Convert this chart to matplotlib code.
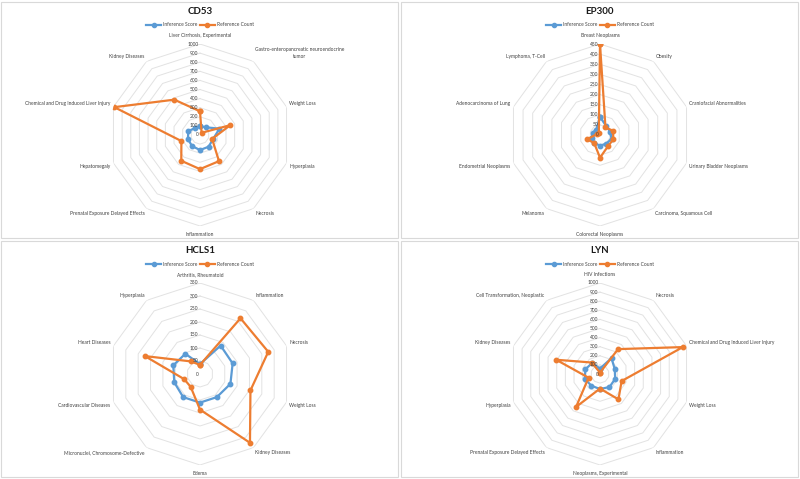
import numpy as np
import matplotlib
matplotlib.use("Agg")
import matplotlib.pyplot as plt
from matplotlib.patches import Rectangle
from matplotlib.lines import Line2D

plt.rcParams["font.family"] = ["Lato", "DejaVu Sans"]

W, H = 800, 479

# CD53
cd53_cats = ["Liver Cirrhosis, Experimental",
             "Gastro-enteropancreatic neuroendocrine\ntumor",
             "Weight Loss", "Hyperplasia", "Necrosis", "Inflammation",
             "Prenatal Exposure Delayed Effects", "Hepatomegaly",
             "Chemical and Drug Induced Liver Injury", "Kidney Diseases"]
cd53_inference = [95, 105, 225, 150, 160, 165, 150, 140, 135, 95]
cd53_reference = [260, 30, 350, 140, 355, 375, 350, 215, 990, 480]

# EP300
ep300_cats = ["Breast Neoplasms", "Obesity", "Craniofacial Abnormalities",
              "Urinary Bladder Neoplasms", "Carcinoma, Squamous Cell",
              "Colorectal Neoplasms", "Melanoma", "Endometrial Neoplasms",
              "Adenocarcinoma of Lung", "Lymphoma, T-Cell"]
ep300_inference = [90, 53, 53, 60, 53, 53, 48, 44, 37, 32]
ep300_reference = [450, 46, 68, 69, 68, 112, 49, 68, 15, 10]

# HCLS1
hcls1_cats = ["Arthritis, Rheumatoid", "Inflammation", "Necrosis", "Weight Loss",
              "Kidney Diseases", "Edema", "Micronuclei, Chromosome-Defective",
              "Cardiovascular Diseases", "Heart Diseases", "Hyperplasia"]
hcls1_inference = [38, 135, 132, 123, 110, 110, 110, 104, 108, 96]
hcls1_reference = [35, 265, 276, 204, 327, 137, 61, 64, 223, 60]

# LYN
lyn_cats = ["HIV Infections", "Necrosis", "Chemical and Drug Induced Liver Injury",
            "Weight Loss", "Inflammation", "Neoplasms, Experimental",
            "Prenatal Exposure Delayed Effects", "Hyperplasia", "Kidney Diseases",
            "Cell Transformation, Neoplastic"]
lyn_inference = [60, 215, 171, 175, 177, 165, 160, 175, 169, 148]
lyn_reference = [15, 338, 957, 250, 345, 160, 448, 132, 507, 156]

series_names = ["Inference Score", "Reference Count"]

BLUE = "#5b9bd5"
ORANGE = "#ed7d31"
GRID = "#e2e2e2"
BORDER = "#d9d9d9"
TEXT = "#404040"
FS = 3.5


def draw_radar(fig, x0, y0, title, cats, inference, reference, rmax, step):
    cx, cy, R = x0 + 200, y0 + 135, 91
    ax = fig.add_axes([(cx - R) / W, (H - cy - R) / H, 2 * R / W, 2 * R / H],
                      projection="polar")
    ax.set_theta_zero_location("N")
    ax.set_theta_direction(-1)
    ax.set_ylim(0, rmax)
    ax.set_xticks([])
    ax.set_yticks([])
    ax.grid(False)
    ax.spines["polar"].set_visible(False)
    ax.patch.set_alpha(0)

    n = len(cats)
    theta = np.linspace(0, 2 * np.pi, n, endpoint=False)
    closed = np.append(theta, theta[0])

    # decagon rings (no spokes in the original)
    for r in np.arange(step, rmax + step / 2, step):
        ax.plot(closed, np.full(n + 1, r), color=GRID, lw=0.7, zorder=1)

    for vals, col in [(inference, BLUE), (reference, ORANGE)]:
        ax.plot(closed, np.append(vals, vals[0]), color=col, lw=1.6,
                marker="o", ms=3.2, zorder=3)

    for r in np.arange(0, rmax + step / 2, step):
        ax.annotate(f"{int(r)}", xy=(0, r), xytext=(-1.2, 0), textcoords="offset points",
                    ha="right", va="center", fontsize=FS, color=TEXT,
                    annotation_clip=False, zorder=4)

    for t, c in zip(theta, cats):
        s, co = np.sin(t), np.cos(t)
        ha = "left" if s > 0.1 else ("right" if s < -0.1 else "center")
        va = "bottom" if co > 0.3 else ("top" if co < -0.3 else "center")
        dy = 2.5 * co
        if abs(co) > 0.99:
            dy = 4.5 * co
        ax.annotate(c, xy=(t, rmax), xytext=(2.2 * s, dy), textcoords="offset points",
                    ha=ha, va=va, ma="center", fontsize=FS, color=TEXT,
                    annotation_clip=False, linespacing=1.3)

    fig.text(cx / W, 1 - (y0 + 11) / H, title, ha="center", va="center",
             fontsize=7, fontweight="bold", color="#1a1a1a")
    handles = [Line2D([], [], color=BLUE, lw=1.6, marker="o", ms=3.0),
               Line2D([], [], color=ORANGE, lw=1.6, marker="o", ms=3.0)]
    leg = fig.legend(handles, series_names, loc="center",
                     bbox_to_anchor=(cx / W, 1 - (y0 + 25) / H), ncol=2, frameon=False,
                     fontsize=FS, handlelength=3.0, handletextpad=0.4,
                     columnspacing=0.6, borderpad=0, borderaxespad=0)
    for txt in leg.get_texts():
        txt.set_color(TEXT)

    fig.patches.append(Rectangle(((x0 + 1) / W, 1 - (y0 + 238) / H), 397 / W, 236 / H,
                                 transform=fig.transFigure, fill=False,
                                 edgecolor=BORDER, lw=0.8))


fig = plt.figure(figsize=(W / 100, H / 100), dpi=100)
fig.patch.set_facecolor("white")

draw_radar(fig, 0, 0, "CD53", cd53_cats, cd53_inference, cd53_reference, 1000, 100)
draw_radar(fig, 400, 0, "EP300", ep300_cats, ep300_inference, ep300_reference, 450, 50)
draw_radar(fig, 0, 239, "HCLS1", hcls1_cats, hcls1_inference, hcls1_reference, 350, 50)
draw_radar(fig, 400, 239, "LYN", lyn_cats, lyn_inference, lyn_reference, 1000, 100)

fig.savefig("out.png", dpi=100)
